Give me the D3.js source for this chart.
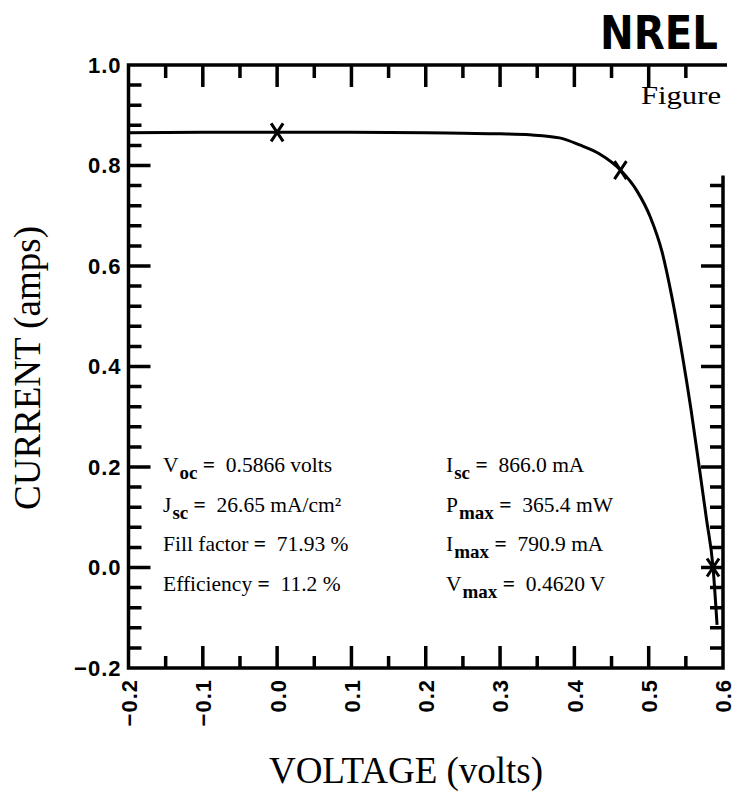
<!DOCTYPE html>
<html>
<head>
<meta charset="utf-8">
<script src="https://cdn.jsdelivr.net/npm/d3@7"></script>
<style>
  body { margin: 0; background: #fff; }
  svg { display: block; }
</style>
</head>
<body>
<script>
var width = 736,
    height = 795;

// I-V curve
var voltage = [-0.2, -0.1, 0.0, 0.1, 0.2, 0.25, 0.3, 0.34, 0.38, 0.407, 0.434, 0.462,
               0.484, 0.502, 0.518, 0.531, 0.545, 0.557, 0.568, 0.578, 0.5866, 0.592];
var current = [0.865, 0.866, 0.866, 0.866, 0.865, 0.864, 0.863, 0.861, 0.855, 0.841, 0.823, 0.791,
               0.750, 0.698, 0.628, 0.540, 0.425, 0.314, 0.200, 0.094, 0.0, -0.114];

// the X marks: Isc, Pmax, Voc
var markV = [0.0, 0.462, 0.5866];
var markI = [0.866, 0.7909, 0.0];

var xMajor = [-0.2, -0.1, 0.0, 0.1, 0.2, 0.3, 0.4, 0.5, 0.6];
var xMinor = [-0.15, -0.05, 0.05, 0.15, 0.25, 0.35, 0.45, 0.55];
var yMajor = [-0.2, 0.0, 0.2, 0.4, 0.6, 0.8, 1.0];
var yMinor = [-0.16, -0.12, -0.08, -0.04, 0.04, 0.08, 0.12, 0.16, 0.24, 0.28, 0.32, 0.36,
              0.44, 0.48, 0.52, 0.56, 0.64, 0.68, 0.72, 0.76, 0.84, 0.88, 0.92, 0.96];

// [main, subscript, value]
var leftLines = [["V", "oc", "0.5866 volts"], ["J", "sc", "26.65 mA/cm²"],
                 ["Fill factor", "", "71.93 %"], ["Efficiency", "", "11.2 %"]];
var rightLines = [["I", "sc", "866.0 mA"], ["P", "max", "365.4 mW"],
                  ["I", "max", "790.9 mA"], ["V", "max", "0.4620 V"]];

var x = d3.scaleLinear().domain([-0.2, 0.6]).range([128.5, 723]);
var y = d3.scaleLinear().domain([-0.2, 1.0]).range([668, 65]);

var svg = d3.select('body').append('svg')
    .attr('width', width)
    .attr('height', height);

var fmt = function(d) { return d3.format('.1f')(d).replace('-', '−'); };
var labelFont = 'bold 22px "Liberation Sans", Arial, sans-serif';

/* ---------- tick labels (d3 axes) ---------- */
function noLines(g) {
  g.selectAll('.domain').remove();
  g.selectAll('.tick line').remove();
}

var bottom = svg.append('g').attr('transform', 'translate(0,' + y(-0.2) + ')')
    .call(d3.axisBottom(x).tickValues(xMajor).tickSize(0).tickFormat(fmt))
    .call(noLines);
bottom.selectAll('text')
    .attr('transform', 'rotate(-90)')
    .attr('x', -11).attr('y', 0).attr('dy', '0.36em')
    .attr('text-anchor', 'end')
    .style('font', labelFont)
    .style('letter-spacing', '1px')
    .attr('fill', '#000');

var left = svg.append('g').attr('transform', 'translate(' + x(-0.2) + ',0)')
    .call(d3.axisLeft(y).tickValues(yMajor).tickSize(0).tickPadding(7).tickFormat(fmt))
    .call(noLines);
left.selectAll('text')
    .style('font', labelFont)
    .style('letter-spacing', '1px')
    .attr('fill', '#000');

/* ---------- frame with inward tick marks ---------- */
var rightTop = 0.78;   // right side only drawn below ~0.78, as in the scan
var x0 = x(-0.2), x1 = x(0.6), yb = y(-0.2), yt = y(1.0);

svg.append('path')
    .attr('d', 'M' + x1 + ',' + y(rightTop) + 'V' + yb + 'H' + x0 + 'V' + yt + 'H' + (x1 + 4))
    .attr('stroke', '#000').attr('stroke-width', 3.5).attr('fill', 'none');

var td = '';
xMinor.forEach(function(v) {
  td += 'M' + x(v) + ',' + yb + 'V' + (yb - 12);
  td += 'M' + x(v) + ',' + yt + 'V' + (yt + 13);
});
xMajor.slice(1, -1).forEach(function(v) {
  td += 'M' + x(v) + ',' + yb + 'V' + (yb - 22);
  td += 'M' + x(v) + ',' + yt + 'V' + (yt + 22);
});
yMinor.forEach(function(v) {
  td += 'M' + x0 + ',' + y(v) + 'H' + (x0 + 13);
  if (v < rightTop) td += 'M' + x1 + ',' + y(v) + 'H' + (x1 - 13);
});
yMajor.slice(1, -1).forEach(function(v) {
  td += 'M' + x0 + ',' + y(v) + 'H' + (x0 + 22);
  if (v < rightTop) td += 'M' + x1 + ',' + y(v) + 'H' + (x1 - 22);
});

svg.append('path')
    .attr('class', 'ticks')
    .attr('d', td)
    .attr('stroke', '#000').attr('stroke-width', 3.5).attr('fill', 'none')
    .attr('stroke-linecap', 'butt');

/* ---------- curve ---------- */
var pts = voltage.map(function(v, i) { return [v, current[i]]; });
var line = d3.line()
    .x(function(p) { return x(p[0]); })
    .y(function(p) { return y(p[1]); })
    .curve(d3.curveMonotoneX);

svg.append('path')
    .datum(pts)
    .attr('d', line)
    .attr('fill', 'none')
    .attr('stroke', '#000')
    .attr('stroke-width', 3);

svg.selectAll('.mark')
    .data(markV.map(function(v, i) { return [v, markI[i]]; }))
  .enter().append('path')
    .attr('class', 'mark')
    .attr('d', function(p) {
      var cx = x(p[0]), cy = y(p[1]), s = 6, t = 9;
      return 'M' + (cx - s) + ',' + (cy - t) + 'L' + (cx + s) + ',' + (cy + t) +
             'M' + (cx + s) + ',' + (cy - t) + 'L' + (cx - s) + ',' + (cy + t);
    })
    .attr('fill', 'none')
    .attr('stroke', '#000')
    .attr('stroke-width', 3);

/* ---------- text ---------- */
var serif = '"Liberation Serif", "Times New Roman", serif';

function block(lines, xs) {
  lines.forEach(function(l, i) {
    var t = svg.append('text')
        .attr('x', xs).attr('y', 472 + i * 39.5)
        .style('font-family', serif).style('font-size', '21.5px')
        .attr('fill', '#000');
    t.append('tspan').text(l[0]);
    if (l[1]) {
      t.append('tspan').attr('dy', 7).attr('dx', 1).style('font-weight', 'bold').style('font-size', '19px').text(l[1]);
      t.append('tspan').attr('dy', -7).text('\u00a0');
    } else {
      t.append('tspan').text('\u00a0');
    }
    t.append('tspan').style('font-weight', 'bold').text('=');
    t.append('tspan').text('\u00a0\u00a0' + l[2]);
  });
}
block(leftLines, 163);
block(rightLines, 446);

svg.append('text')
    .attr('x', 641).attr('y', 104)
    .attr('textLength', 80).attr('lengthAdjust', 'spacingAndGlyphs')
    .style('font-family', serif).style('font-size', '26px')
    .attr('fill', '#000')
    .text('Figure');

svg.append('text')
    .attr('x', 406).attr('y', 783)
    .attr('text-anchor', 'middle')
    .style('font-family', serif).style('font-size', '37px')
    .attr('fill', '#000')
    .text('VOLTAGE (volts)');

svg.append('text')
    .attr('transform', 'translate(40,368) rotate(-90)')
    .attr('text-anchor', 'middle')
    .style('font-family', serif).style('font-size', '37px')
    .attr('fill', '#000')
    .text('CURRENT (amps)');

// logo
svg.append('text')
    .attr('x', 600).attr('y', 49)
    .attr('textLength', 118).attr('lengthAdjust', 'spacingAndGlyphs')
    .style('font', 'bold 46px "DejaVu Sans", sans-serif')
    .attr('fill', '#000')
    .text('NREL');
</script>
</body>
</html>
